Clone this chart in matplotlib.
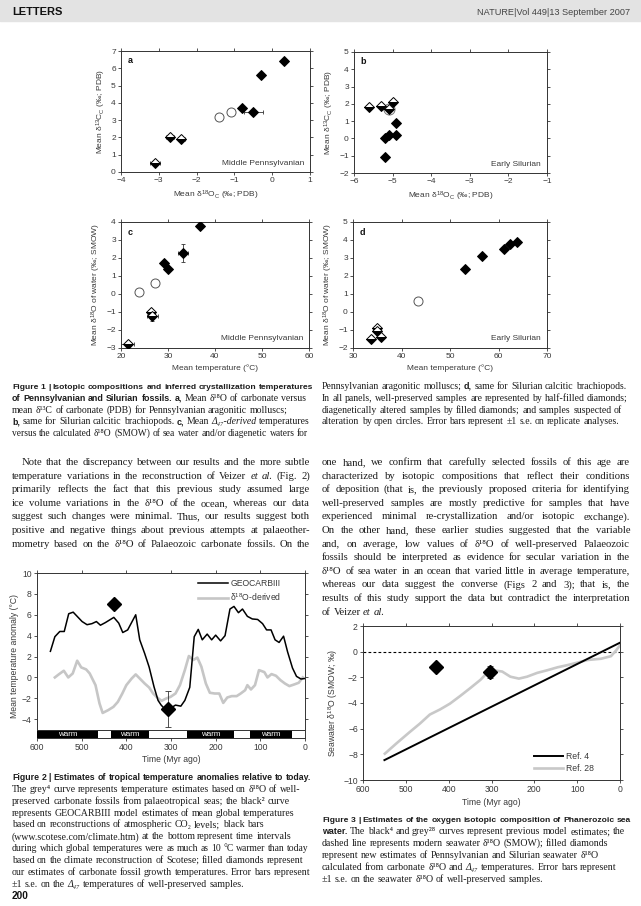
import matplotlib
matplotlib.use("Agg")
import matplotlib.pyplot as plt
from matplotlib.patches import Rectangle

W, H = 641, 906

# ---------------- Fig. 1 data ----------------
a_half_x = [-3.1, -2.7, -2.4]
a_half_y = [0.5, 2.0, 1.9]
a_half_xerr = [0.12, 0.1, 0.08]
a_fill_x = [-0.8, -0.5, -0.3, 0.3]
a_fill_y = [3.7, 3.5, 5.6, 6.4]
a_fill_xerr = [0.05, 0.25, 0.05, 0.05]
a_open_x = [-1.4, -1.1]
a_open_y = [3.2, 3.5]

b_half_x = [-5.6, -5.3, -5.0, -5.1]
b_half_y = [1.8, 1.9, 2.1, 1.7]
b_open_x = [-5.1]
b_open_y = [1.7]
b_fill_x = [-4.9, -5.1, -5.2, -4.9, -5.2]
b_fill_y = [0.9, 0.2, 0.0, 0.2, -1.1]

c_half_x = [21.4, 26.4, 26.7]
c_half_y = [-2.75, -1.0, -1.2]
c_half_xerr = [1.3, 0.3, 1.2]
c_half_yerr = [0.1, 0.1, 0.3]
c_open_x = [23.8, 27.2]
c_open_y = [0.1, 0.6]
c_fill_x = [29.1, 30.0, 33.2, 36.9]
c_fill_y = [1.7, 1.4, 2.3, 3.8]
c_fill_xerr = [0, 0, 1.0, 0]
c_fill_yerr = [0, 0, 0.5, 0]

d_half_x = [33.7, 34.9, 35.0, 35.8]
d_half_y = [-1.5, -0.9, -1.05, -1.4]
d_open_x = [43.4]
d_open_y = [0.6]
d_fill_x = [53.0, 56.7, 61.2, 62.3, 63.8]
d_fill_y = [2.4, 3.1, 3.5, 3.8, 3.9]

# ---------------- Fig. 2 data ----------------
geo_t = [570, 560, 549, 539, 529, 519, 509, 499, 488, 477, 467, 458, 447, 428,
         417, 408, 397, 379, 370, 359, 349, 338, 329, 322, 311, 301, 290, 278,
         269, 258, 248, 239, 230, 219, 209, 200, 189, 179, 168, 159, 149, 140,
         129, 118, 106, 95, 86, 76, 67, 58, 48, 39, 28, 19, 9, 0]
geo_v = [2.5, 3.9, 4.4, 4.4, 6.1, 6.25, 5.8, 5.35, 5.05, 5.15, 5.35, 5.0, 5.25,
         5.75, 5.2, 4.3, 4.55, 6.0, 3.6, 2.3, 1.0, -0.9, -2.2, -2.65, -3.15,
         -2.95, -2.65, -2.75, -2.2, -0.95, 3.9, 4.6, 3.6, 4.15, 3.6, 4.05, 3.5,
         4.0, 6.55, 6.8, 6.2, 6.55, 5.85, 5.6, 5.55, 5.15, 4.55, 4.55, 3.6, 3.35,
         3.95, 2.45, 0.9, 0.1, -0.15, -0.1]
d18_t = [560, 551, 540, 530, 520, 510, 501, 490, 482, 469, 460, 453, 441, 429,
         419, 409, 400, 388, 379, 370, 359, 349, 340, 331, 321, 311, 301, 290,
         280, 269, 260, 250, 241, 232, 222, 213, 202, 192, 183, 174, 164, 153,
         144, 134, 129, 121, 112, 103, 91, 84, 75, 65, 55, 45, 35, 24, 14, 5]
d18_v = [0.0, 0.3, 0.64, 0.0, 0.38, 1.6, 0.96, 0.77, 0.38, -0.74, -2.5, -3.4,
         -3.14, -2.82, -2.34, -1.54, -0.74, -0.1, 0.29, -0.1, -0.58, -0.96,
         -1.54, -1.92, -2.24, -2.02, -1.86, -1.54, -0.74, 0.7, 2.05, 1.67, 1.9,
         1.03, -0.58, -1.47, -1.54, -1.54, -2.44, -1.92, -1.79, -1.79, -1.54,
         -1.22, -0.74, -1.15, -0.74, 0.7, 0.51, 0.0, 0.32, 0.16, -0.26, -0.58,
         -0.83, -0.67, -0.51, 0.0]
f2_t = [428, 306]
f2_v = [7.0, -3.0]
f2_err = [0, 1.7]
warm_start = [600, 435, 265, 123]
warm_end = [464, 350, 159, 29]

# ---------------- Fig. 3 data ----------------
ref4_t = [550, 0]
ref4_v = [-8.45, 0.7]
ref28_t = [549, 522, 494, 467, 444, 420, 397, 373, 350, 326, 310, 295, 275, 256,
           236, 217, 193, 170, 146, 123, 99, 76, 44, 21, 9, 0]
ref28_v = [-7.95, -7.15, -6.35, -5.6, -4.9, -4.5, -4.05, -3.45, -2.85, -2.2,
           -1.65, -1.45, -1.55, -1.95, -2.1, -1.95, -1.65, -1.45, -1.22, -1.05,
           -0.85, -0.65, -0.55, -0.35, 0.1, 0.5]
f3_t = [430, 303]
f3_v = [-1.2, -1.6]
f3_err = [0, 0.45]

# ---------------- text ----------------
def B(s):
    return " ".join("*" + w for w in s.split())

cap1_left = [
    B("Figure 1 | Isotopic compositions and inferred crystallization temperatures"),
    B("of Pennsylvanian and Silurian fossils.") + " *a, Mean δ¹⁸O of carbonate versus",
    "mean δ¹³C of carbonate (PDB) for Pennsylvanian aragonitic molluscs;",
    "*b, same for Silurian calcitic brachiopods. *c, Mean _Δ₄₇-derived temperatures",
    "versus the calculated δ¹⁸O (SMOW) of sea water and/or diagenetic waters for",
]
cap1_right = [
    "Pennsylvanian aragonitic molluscs; *d, same for Silurian calcitic brachiopods.",
    "In all panels, well-preserved samples are represented by half-filled diamonds;",
    "diagenetically altered samples by filled diamonds; and samples suspected of",
    "alteration by open circles. Error bars represent ±1 s.e. on replicate analyses.",
]
body_left = [
    "Note that the discrepancy between our results and the more subtle",
    "temperature variations in the reconstruction of Veizer _et _al. (Fig. 2)",
    "primarily reflects the fact that this previous study assumed large",
    "ice volume variations in the δ¹⁸O of the ocean, whereas our data",
    "suggest such changes were minimal. Thus, our results suggest both",
    "positive and negative things about previous attempts at palaeother-",
    "mometry based on the δ¹⁸O of Palaeozoic carbonate fossils. On the",
]
body_right = [
    "one hand, we confirm that carefully selected fossils of this age are",
    "characterized by isotopic compositions that reflect their conditions",
    "of deposition (that is, the previously proposed criteria for identifying",
    "well-preserved samples are mostly predictive for samples that have",
    "experienced minimal re-crystallization and/or isotopic exchange).",
    "On the other hand, these earlier studies suggested that the variable",
    "and, on average, low values of δ¹⁸O of well-preserved Palaeozoic",
    "fossils should be interpreted as evidence for secular variation in the",
    "δ¹⁸O of sea water in an ocean that varied little in average temperature,",
    "whereas our data suggest the converse (Figs 2 and 3); that is, the",
    "results of this study support the data but contradict the interpretation",
    "of Veizer _et _al.",
]
cap2 = [
    B("Figure 2 | Estimates of tropical temperature anomalies relative to today."),
    "The grey⁴ curve represents temperature estimates based on δ¹⁸O of well-",
    "preserved carbonate fossils from palaeotropical seas; the black² curve",
    "represents GEOCARBIII model estimates of mean global temperatures",
    "based on reconstructions of atmospheric CO₂ levels; black bars",
    "(www.scotese.com/climate.htm) at the bottom represent time intervals",
    "during which global temperatures were as much as 10 °C warmer than today",
    "based on the climate reconstruction of Scotese; filled diamonds represent",
    "our estimates of carbonate fossil growth temperatures. Error bars represent",
    "±1 s.e. on the _Δ₄₇ temperatures of well-preserved samples.",
]
cap3 = [
    B("Figure 3 | Estimates of the oxygen isotopic composition of Phanerozoic sea"),
    B("water.") + " The black⁴ and grey²⁸ curves represent previous model estimates; the",
    "dashed line represents modern seawater δ¹⁸O (SMOW); filled diamonds",
    "represent new estimates of Pennsylvanian and Silurian seawater δ¹⁸O",
    "calculated from carbonate δ¹⁸O and _Δ₄₇ temperatures. Error bars represent",
    "±1 s.e. on the seawater δ¹⁸O of well-preserved samples.",
]

# ---------------- setup ----------------
plt.rcParams['font.family'] = ['Liberation Sans', 'DejaVu Sans']
plt.rcParams['mathtext.fontset'] = 'custom'
plt.rcParams['mathtext.rm'] = 'Liberation Sans'
plt.rcParams['mathtext.it'] = 'Liberation Sans:italic'
plt.rcParams['mathtext.bf'] = 'Liberation Sans:bold'

SERIF = ['Liberation Serif', 'DejaVu Serif']
SANS = ['Liberation Sans', 'DejaVu Sans']
INK = '#1c1c1c'
AXC = '#333333'
LAB = '#3a3a3a'

fig = plt.figure(figsize=(W / 100, H / 100), dpi=100)
R = fig.canvas.get_renderer()

fig.add_artist(Rectangle((0, 1 - 21 / H), 1, 21 / H, transform=fig.transFigure,
                         color='#e3e3e3', zorder=0))


def px_axes(l, t, r, b):
    return fig.add_axes([l / W, 1 - b / H, (r - l) / W, (b - t) / H])


def style_ax(ax, size=6):
    for s in ax.spines.values():
        s.set_linewidth(0.7)
        s.set_color(AXC)
    ax.tick_params(direction='out', top=True, right=True, length=2.2, width=0.6,
                   labelsize=size, pad=1.5, color=AXC, labelcolor=LAB)
    ax.tick_params(labeltop=False, labelright=False)


def mk(s, x, y, size, fam, weight='normal', style='normal', color=INK, **kw):
    return fig.text(x / W, 1 - y / H, s, fontsize=size, family=fam, weight=weight,
                    style=style, color=color, va='baseline', **kw)


def parse(w):
    weight, style = 'normal', 'normal'
    while w and w[0] in '*_':
        if w[0] == '*':
            weight = 'bold'
        else:
            style = 'italic'
        w = w[1:]
    return w, weight, style


def space_w(size, fam):
    t1 = mk('x x', 0, 0, size, fam)
    t2 = mk('xx', 0, 0, size, fam)
    w = t1.get_window_extent(R).width - t2.get_window_extent(R).width
    t1.remove()
    t2.remove()
    return w


def put_line(line, x0, x1, y, size, fam, bfam, bsize, justify=False):
    pieces = []
    for raw in line.split(' '):
        w, wt, st = parse(raw)
        if wt == 'bold':
            t = mk(w, 0, y, bsize, bfam, wt, st)
        else:
            t = mk(w, 0, y, size, fam, wt, st)
        pieces.append(t)
    widths = [t.get_window_extent(R).width for t in pieces]
    gap = space_w(size, fam)
    natural = sum(widths) + gap * (len(pieces) - 1)
    if natural > x1 - x0:
        k = (x1 - x0) / natural
        for t in pieces:
            t.set_fontsize(t.get_fontsize() * k)
        widths = [t.get_window_extent(R).width for t in pieces]
        gap *= k
    if justify and len(pieces) > 1:
        gap = (x1 - x0 - sum(widths)) / (len(pieces) - 1)
    x = x0
    for t, w in zip(pieces, widths):
        t.set_x(x / W)
        x += w + gap


def put_block(lines, x0, x1, y0, step, size, fam, bfam, bsize=None,
              justify=False, last_ragged=False, indent_first=0):
    for i, ln in enumerate(lines):
        last = i == len(lines) - 1
        put_line(ln, x0 + (indent_first if i == 0 else 0), x1, y0 + i * step,
                 size, fam, bfam, bsize or size,
                 justify and not (last and last_ragged))


# ---------------- header ----------------
mk('LETTERS', 12, 15, 8.0, SANS, weight='bold', color='#111111')
mk('NATURE|Vol 449|13 September 2007', 630, 15, 6.6, SANS, color='#444444', ha='right')


# ---------------- Fig. 1 ----------------
def half(ax, x, y, xerr=None, yerr=None, ms=4.6):
    if xerr is not None or yerr is not None:
        ax.errorbar(x, y, xerr=xerr, yerr=yerr, fmt='none', ecolor=AXC,
                    elinewidth=0.6, capsize=1.2, capthick=0.6, zorder=2)
    ax.plot(x, y, 'D', ms=ms, mfc='black', mfcalt='white', fillstyle='bottom',
            mec='black', mew=0.7, ls='none', zorder=3)


def filled(ax, x, y, xerr=None, yerr=None, ms=4.6):
    if xerr is not None or yerr is not None:
        ax.errorbar(x, y, xerr=xerr, yerr=yerr, fmt='none', ecolor=AXC,
                    elinewidth=0.6, capsize=1.2, capthick=0.6, zorder=2)
    ax.plot(x, y, 'D', ms=ms, mfc='black', mec='black', mew=0.7, ls='none', zorder=3)


def opencirc(ax, x, y, ms=6.5, color='#555555'):
    ax.plot(x, y, 'o', ms=ms, mfc='none', mec=color, mew=0.7, ls='none', zorder=2)


lbl13 = 'Mean δ$^{13}$C$_{\\rm C}$ (‰; PDB)'
lbl18 = 'Mean δ$^{18}$O$_{\\rm C}$ (‰; PDB)'
lblw = 'Mean δ$^{18}$O of water (‰; SMOW)'
lblT = 'Mean temperature (°C)'

axa = px_axes(121, 51, 310, 172)
half(axa, a_half_x, a_half_y, xerr=a_half_xerr)
filled(axa, a_fill_x, a_fill_y, xerr=a_fill_xerr)
opencirc(axa, a_open_x, a_open_y)
axa.set_xlim(-4, 1)
axa.set_ylim(0, 7)
axa.set_xticks(range(-4, 2))
axa.set_yticks(range(0, 8))

axb = px_axes(354, 52, 547, 173)
opencirc(axb, b_open_x, b_open_y, ms=8, color='#777777')
half(axb, b_half_x, b_half_y)
filled(axb, b_fill_x, b_fill_y)
axb.set_xlim(-6, -1)
axb.set_ylim(-2, 5)
axb.set_xticks(range(-6, 0))
axb.set_yticks(range(-2, 6))

axc = px_axes(121, 222, 309, 348)
opencirc(axc, c_open_x, c_open_y)
half(axc, c_half_x, c_half_y, xerr=c_half_xerr, yerr=c_half_yerr)
filled(axc, c_fill_x, c_fill_y, xerr=c_fill_xerr, yerr=c_fill_yerr)
axc.set_xlim(20, 60)
axc.set_ylim(-3, 4)
axc.set_xticks(range(20, 61, 10))
axc.set_yticks(range(-3, 5))

axd = px_axes(353, 222, 547, 348)
opencirc(axd, d_open_x, d_open_y)
half(axd, d_half_x, d_half_y)
filled(axd, d_fill_x, d_fill_y)
axd.set_xlim(30, 70)
axd.set_ylim(-2, 5)
axd.set_xticks(range(30, 71, 10))
axd.set_yticks(range(-2, 6))

for ax, tag, era, xl, yl in [(axa, 'a', 'Middle Pennsylvanian', lbl18, lbl13),
                             (axb, 'b', 'Early Silurian', lbl18, lbl13),
                             (axc, 'c', 'Middle Pennsylvanian', lblT, lblw),
                             (axd, 'd', 'Early Silurian', lblT, lblw)]:
    style_ax(ax)
    ax.text(0.035, 0.9, tag, transform=ax.transAxes, fontsize=6.5,
            weight='bold', color='#111111')
    ax.text(0.97, 0.045, era, transform=ax.transAxes, fontsize=6,
            ha='right', va='bottom', color=LAB)
    ax.set_xlabel(xl, fontsize=6, color=LAB, labelpad=3)
    ax.set_ylabel(yl, fontsize=6, color=LAB, labelpad=2)

# ---------------- Fig. 2 ----------------
ax2 = px_axes(37, 573, 305, 738)
ax2.plot(d18_t, d18_v, color='#c6c6c6', lw=1.9, label='δ$^{18}$O-derived', zorder=2)
ax2.plot(geo_t, geo_v, color='black', lw=1.1, label='GEOCARBIII', zorder=3)
ax2.errorbar(f2_t, f2_v, yerr=f2_err, fmt='none', ecolor=AXC, elinewidth=0.6,
             capsize=2.5, capthick=0.6, zorder=3)
ax2.plot(f2_t, f2_v, 'D', ms=7, color='black', ls='none', zorder=4)
bar_lo, bar_hi = -5.8, -5.05
ax2.broken_barh([(e, s - e) for s, e in zip(warm_start, warm_end)],
                (bar_lo, bar_hi - bar_lo), facecolors='black', zorder=3)
ax2.axhline(bar_hi, color=AXC, lw=0.7, zorder=3)
for s, e in zip(warm_start, warm_end):
    ax2.text((s + e) / 2, (bar_lo + bar_hi) / 2, 'warm', color='white',
             fontsize=5.8, ha='center', va='center', zorder=4)
ax2.set_xlim(600, 0)
ax2.set_ylim(bar_lo, 10)
ax2.set_xticks(range(600, -1, -100))
ax2.set_yticks(range(-4, 11, 2))
style_ax(ax2, 6.2)
ax2.set_xlabel('Time (Myr ago)', fontsize=6.2, color=LAB, labelpad=2)
ax2.set_ylabel('Mean temperature anomaly (°C)', fontsize=6.2, color=LAB, labelpad=2)
h, l = ax2.get_legend_handles_labels()
ax2.legend(h[::-1], l[::-1], loc='upper right', bbox_to_anchor=(0.925, 0.985),
           frameon=False, fontsize=6.2, handlelength=3.4, handletextpad=0.3,
           labelspacing=0.35, borderaxespad=0, labelcolor=LAB)

# ---------------- Fig. 3 ----------------
ax3 = px_axes(363, 626, 620, 780)
ax3.axhline(0, color='black', lw=0.8, ls=(0, (2.5, 2)), zorder=1)
ax3.plot(ref4_t, ref4_v, color='black', lw=1.4, label='Ref. 4', zorder=3)
ax3.plot(ref28_t, ref28_v, color='#c8c8c8', lw=1.9, label='Ref. 28', zorder=2)
ax3.errorbar(f3_t, f3_v, yerr=f3_err, fmt='none', ecolor=AXC, elinewidth=0.6,
             capsize=2.5, capthick=0.6, zorder=3)
ax3.plot(f3_t, f3_v, 'D', ms=6.8, color='black', ls='none', zorder=4)
ax3.set_xlim(600, 0)
ax3.set_ylim(-10, 2)
ax3.set_xticks(range(600, -1, -100))
ax3.set_yticks(range(-10, 3, 2))
style_ax(ax3, 6.2)
ax3.set_xlabel('Time (Myr ago)', fontsize=6.2, color=LAB, labelpad=3)
ax3.set_ylabel('Seawater δ$^{18}$O (SMOW; ‰)', fontsize=6.2, color=LAB, labelpad=2)
ax3.legend(loc='lower right', bbox_to_anchor=(0.91, 0.02), frameon=False,
           fontsize=6.2, handlelength=3.4, handletextpad=0.3, labelspacing=0.35,
           borderaxespad=0, labelcolor=LAB)

# ---------------- captions and body ----------------
put_block(cap1_left, 12, 310, 389, 11.8, 7.0, SERIF, SANS, bsize=6.4)
put_block(cap1_right, 322, 630, 389, 11.8, 7.0, SERIF, SANS, bsize=6.4)
put_block(body_left, 12, 310, 465, 13.6, 7.7, SERIF, SERIF, justify=True,
          indent_first=10)
put_block(body_right, 322, 630, 465, 13.6, 7.7, SERIF, SERIF, justify=True,
          last_ragged=True)
put_block(cap2, 12, 310, 780, 11.85, 7.1, SERIF, SANS, bsize=6.4)
put_block(cap3, 322, 630, 822, 12.1, 7.1, SERIF, SANS, bsize=6.4)
mk('200', 12, 899, 7.2, SANS, weight='bold', color='#111111')

fig.savefig('out.png', dpi=100)
